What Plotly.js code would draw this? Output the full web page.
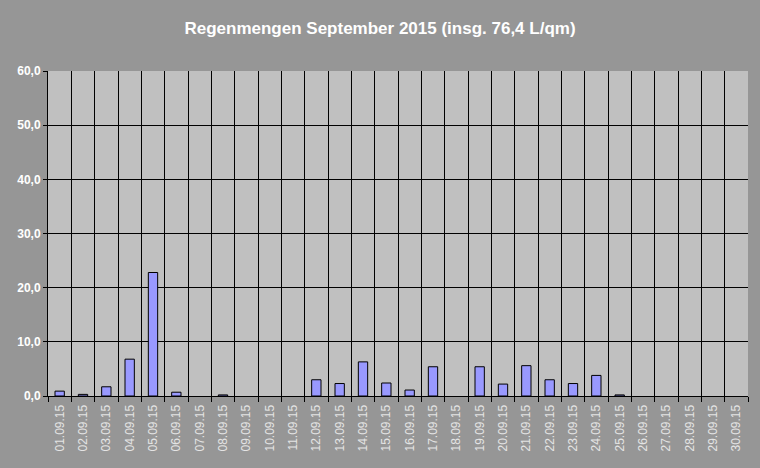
<!DOCTYPE html>
<html>
<head>
<meta charset="utf-8">
<script src="https://cdn.plot.ly/plotly-3.0.1.min.js"></script>
<style>
html,body{margin:0;padding:0;background:#969696;}
#chart{width:760px;height:468px;}
</style>
</head>
<body>
<div id="chart"></div>
<script>
const dates = ["01.09.15","02.09.15","03.09.15","04.09.15","05.09.15","06.09.15","07.09.15","08.09.15","09.09.15","10.09.15",
  "11.09.15","12.09.15","13.09.15","14.09.15","15.09.15","16.09.15","17.09.15","18.09.15","19.09.15","20.09.15",
  "21.09.15","22.09.15","23.09.15","24.09.15","25.09.15","26.09.15","27.09.15","28.09.15","29.09.15","30.09.15"];
const rain = [0.9,0.3,1.7,6.8,22.8,0.7,0,0.2,0,0,
  0,3.0,2.3,6.3,2.4,1.1,5.4,0,5.4,2.2,
  5.6,3.0,2.3,3.8,0.2,0,0,0,0,0];
const titleText = "Regenmengen September 2015 (insg. 76,4 L/qm)";
const yTicks = [0,10,20,30,40,50,60];

Plotly.newPlot("chart", [{
  type: "bar",
  x: dates,
  y: rain,
  width: 0.4,
  marker: {color: "#9999ff", line: {color: "#000000", width: rain.map(v => v > 0 ? 1 : 0)}},
  hoverinfo: "x+y"
}], {
  width: 760, height: 468,
  paper_bgcolor: "#969696",
  plot_bgcolor: "#c0c0c0",
  separators: ",.",
  margin: {l: 48, r: 12, t: 71, b: 72, pad: 0},
  title: {
    text: titleText,
    font: {family: "Liberation Sans, Arial, sans-serif", size: 17, color: "#ffffff", weight: "bold"},
    x: 0.5, xanchor: "center", xref: "container",
    y: 1 - 28/468, yanchor: "middle", yref: "container"
  },
  xaxis: {
    type: "category",
    tickson: "boundaries",
    showgrid: true, gridcolor: "#000000", gridwidth: 1,
    showline: true, linecolor: "#000000", linewidth: 1,
    ticks: "outside", ticklen: 5, tickcolor: "#000000",
    ticklabelstandoff: 3,
    tickangle: -90,
    tickfont: {family: "Liberation Sans, Arial, sans-serif", size: 12, color: "#e4e4e4"},
    fixedrange: true
  },
  yaxis: {
    range: [0, 60],
    tickvals: yTicks,
    tickformat: ".1f",
    showgrid: true, gridcolor: "#000000", gridwidth: 1,
    zeroline: false,
    showline: true, linecolor: "#000000", linewidth: 1,
    ticks: "outside", ticklen: 4, tickcolor: "#000000",
    tickfont: {family: "Liberation Sans, Arial, sans-serif", size: 12, color: "#ffffff", weight: "bold"},
    fixedrange: true
  },
  showlegend: false,
  bargap: 0.6
}, {displayModeBar: false, staticPlot: true});
</script>
</body>
</html>
